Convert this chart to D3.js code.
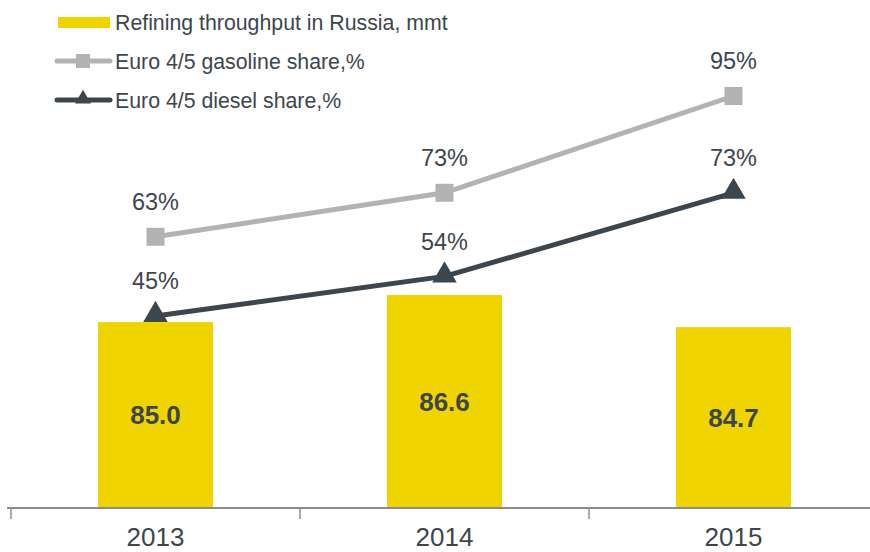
<!DOCTYPE html>
<meta charset="utf-8">
<html>
<head>
<style>
body { margin: 0; background: #fff; }
text { font-family: Arial, "Liberation Sans", sans-serif; fill: #3d464d; }
</style>
</head>
<body>
<script src="https://d3js.org/d3.v7.min.js"></script>
<script>

var years = ["2013", "2014", "2015"];
var throughput = [85.0, 86.6, 84.7];
var gasoline = [63, 73, 95];
var diesel = [45, 54, 73];
var legendLabels = ["Refining throughput in Russia, mmt", "Euro 4/5 gasoline share,%", "Euro 4/5 diesel share,%"];

var width = 870, height = 552;
var baseY = 508;

var svg = d3.select("body").append("svg")
  .attr("width", width)
  .attr("height", height);

// band per year, spacing across screen
var x = d3.scaleBand()
  .domain(years)
  .range([11, 878])
  .paddingInner(0)
  .paddingOuter(0);

var yBar = d3.scaleLinear()
  .domain([74, 100])
  .range([baseY, baseY - 26 * 16.9]);

var yPct = d3.scaleLinear()
  .domain([0, 100])
  .range([514, 74]);

var barW = 115;

// bars
svg.selectAll(".bar")
  .data(years)
  .enter().append("rect")
  .attr("class", "bar")
  .attr("x", function(d) { return x(d) + x.bandwidth() / 2 - barW / 2; })
  .attr("y", function(d, i) { return yBar(throughput[i]); })
  .attr("width", barW)
  .attr("height", function(d, i) { return baseY - yBar(throughput[i]); })
  .style("fill", "#f0d400");

svg.selectAll(".barlabel")
  .data(years)
  .enter().append("text")
  .attr("x", function(d) { return x(d) + x.bandwidth() / 2; })
  .attr("y", function(d, i) { return (yBar(throughput[i]) + baseY) / 2; })
  .attr("dy", "0.36em")
  .attr("text-anchor", "middle")
  .attr("font-size", "26px")
  .attr("font-weight", "bold")
  .text(function(d, i) { return throughput[i].toFixed(1); });

// x axis
var xAxis = d3.axisBottom(x).tickSize(0).tickPadding(20);
var ax = svg.append("g")
  .attr("transform", "translate(0," + baseY + ")")
  .call(xAxis);
ax.select(".domain").remove();
ax.selectAll("text")
  .attr("font-size", "26px")
  .attr("font-family", "Arial, 'Liberation Sans', sans-serif")
  .style("fill", "#3d464d");

svg.append("line")
  .attr("x1", 7).attr("x2", width)
  .attr("y1", baseY).attr("y2", baseY)
  .style("stroke", "#8c8c8c").style("stroke-width", 2);

svg.selectAll(".tick-mark")
  .data(years)
  .enter().append("line")
  .attr("x1", function(d) { return x(d); })
  .attr("x2", function(d) { return x(d); })
  .attr("y1", baseY).attr("y2", baseY + 11)
  .style("stroke", "#8c8c8c").style("stroke-width", 1.5);

var cx = function(d, i) { return x(years[i]) + x.bandwidth() / 2; };

var line = d3.line()
  .x(function(d, i) { return x(years[i]) + x.bandwidth() / 2; })
  .y(function(d) { return yPct(d); });

// gasoline line
svg.append("path")
  .datum(gasoline)
  .attr("d", line)
  .style("fill", "none")
  .style("stroke", "#b3b3b3")
  .style("stroke-width", 5);

svg.selectAll(".sq")
  .data(gasoline)
  .enter().append("rect")
  .attr("x", function(d, i) { return cx(d, i) - 9; })
  .attr("y", function(d) { return yPct(d) - 9; })
  .attr("width", 18).attr("height", 18)
  .style("fill", "#b3b3b3");

// diesel line
svg.append("path")
  .datum(diesel)
  .attr("d", line)
  .style("fill", "none")
  .style("stroke", "#3d464d")
  .style("stroke-width", 5);

var tri = d3.symbol().type(d3.symbolTriangle).size(260);
svg.selectAll(".tri")
  .data(diesel)
  .enter().append("path")
  .attr("d", tri)
  .attr("transform", function(d, i) { return "translate(" + cx(d, i) + "," + (yPct(d) - 1) + ")"; })
  .style("fill", "#3d464d");

// value labels
[gasoline, diesel].forEach(function(series) {
  svg.selectAll(null)
    .data(series)
    .enter().append("text")
    .attr("x", cx)
    .attr("y", function(d) { return yPct(d) - 35; })
    .attr("dy", "0.36em")
    .attr("text-anchor", "middle")
    .attr("font-size", "23.5px")
    .text(function(d) { return d + "%"; });
});

// legend
var lg = svg.append("g");
var rows = [22, 61, 100];
lg.append("rect")
  .attr("x", 58).attr("y", rows[0] - 5)
  .attr("width", 52).attr("height", 11)
  .style("fill", "#f0d400");
lg.append("line")
  .attr("x1", 57).attr("x2", 110)
  .attr("y1", rows[1]).attr("y2", rows[1])
  .style("stroke", "#b3b3b3").style("stroke-width", 5).style("stroke-linecap", "round");
lg.append("rect")
  .attr("x", 76).attr("y", rows[1] - 7)
  .attr("width", 14).attr("height", 14)
  .style("fill", "#b3b3b3");
lg.append("line")
  .attr("x1", 57).attr("x2", 110)
  .attr("y1", rows[2]).attr("y2", rows[2])
  .style("stroke", "#3d464d").style("stroke-width", 5).style("stroke-linecap", "round");
lg.append("path")
  .attr("d", d3.symbol().type(d3.symbolTriangle).size(110))
  .attr("transform", "translate(83," + (rows[2] - 1) + ")")
  .style("fill", "#3d464d");

lg.selectAll(".lt")
  .data(legendLabels)
  .enter().append("text")
  .attr("x", 115)
  .attr("y", function(d, i) { return rows[i]; })
  .attr("dy", "0.36em")
  .attr("font-size", "21.3px")
  .text(function(d) { return d; });

</script>
</body>
</html>
